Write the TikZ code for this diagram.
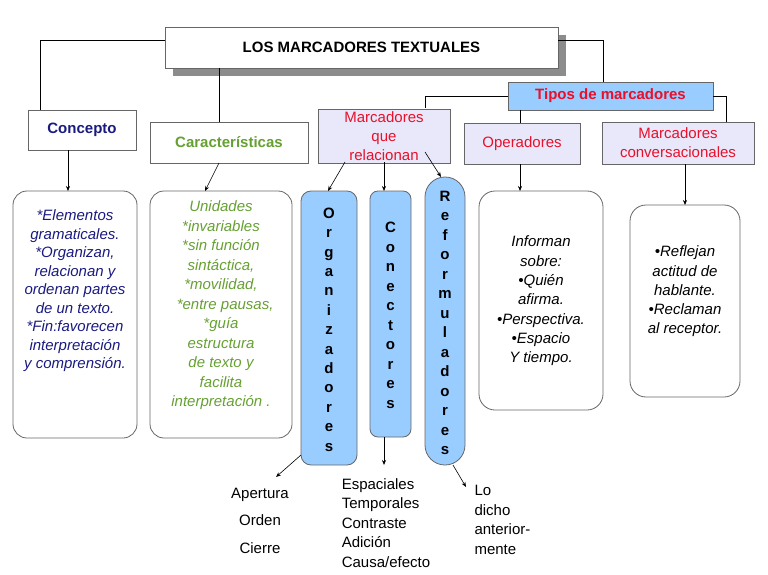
\documentclass[tikz,border=0pt]{standalone}
\usepackage{fontspec}
\setmainfont{Liberation Sans}
\usetikzlibrary{arrows.meta,shapes.misc}
\definecolor{lb}{HTML}{99CCFF}
\definecolor{lav}{HTML}{E8E8FA}
\definecolor{navy}{HTML}{1A1A80}
\definecolor{grn}{HTML}{66A033}
\definecolor{rd}{HTML}{E8102A}
\begin{document}
\begin{tikzpicture}[x=1pt,y=-1pt,
 box/.style={draw=black!60,line width=0.6pt,inner sep=0pt,align=center},
 rbox/.style={box,rounded corners=14pt,line width=0.8pt},
 ln/.style={line width=0.6pt},
 ar/.style={ln,-{Stealth[length=5pt,width=4pt]}},
 it/.style={font=\fontsize{15}{18.5}\selectfont\itshape,align=center},
 vert/.style={font=\fontsize{15}{19.4}\selectfont\bfseries,align=center},
 hd/.style={font=\fontsize{15}{17}\selectfont\bfseries},
 plain/.style={font=\fontsize{15}{16}\selectfont,align=center}]
\useasboundingbox (0,0) rectangle (768,575);
% title
\fill[black!45] (173,35) rectangle (566,76);
\node[box,fill=white,minimum width=393pt,minimum height=41pt,hd] (title) at (361.5,47.5) {LOS MARCADORES TEXTUALES};
\node[box,fill=white,minimum width=108pt,minimum height=40pt,text=navy,hd] (con) at (82,130) {Concepto};
\node[box,fill=white,minimum width=158pt,minimum height=41pt,text=grn,hd] (car) at (229,142.5) {Características};
\node[box,fill=lb,minimum width=205pt,minimum height=28pt,text=rd,hd] (tip) at (610.5,96) {Tipos de marcadores};
\node[box,fill=lav,minimum width=132pt,minimum height=54pt,text=rd,font=\fontsize{15}{19}\selectfont] (rel) at (384,136) {Marcadores\\que\\relacionan};
\node[box,fill=lav,minimum width=116pt,minimum height=41pt,text=rd,font=\fontsize{15}{16}\selectfont] (ope) at (522,143.5) {Operadores};
\node[box,fill=lav,minimum width=152pt,minimum height=42pt,text=rd,font=\fontsize{15}{19}\selectfont] (cnv) at (678,143) {Marcadores\\conversacionales};
% connectors top
\draw[ln] (165,40) -- (40,40) -- (40,110);
\draw[ln] (558,40) -- (603,40) -- (603,82);
\draw[ln] (219,68) -- (219,122);
\draw[ln] (508,96) -- (425,96) -- (425,108);
\draw[ln] (713,96) -- (726,96) -- (726,122);
\draw[ln] (520,110) -- (520,123);
% lower boxes
\node[rbox,minimum width=124pt,minimum height=247pt] (conb) at (75,314.5) {};
\node[it,text=navy] at (75,291) {*Elementos\\gramaticales.\\*Organizan,\\relacionan y\\ordenan partes\\de un texto.\\*Fin:favorecen\\interpretación\\y comprensión.};
\node[rbox,minimum width=142pt,minimum height=247pt] (carb) at (221,314.5) {};
\node[it,text=grn,font=\fontsize{15}{19.5}\selectfont\itshape] at (221,305.5) {Unidades\\*invariables\\*sin función\\sintáctica,\\*movilidad,\\\ \ *entre pausas,\\*guía\\estructura\\de texto y\\facilita\\interpretación .};
\node[rbox,fill=lb,minimum width=56pt,minimum height=274pt,rounded corners=10pt] (org) at (329,328) {};
\node[vert] at (329,329.5) {O\\r\\g\\a\\n\\i\\z\\a\\d\\o\\r\\e\\s};
\node[rbox,fill=lb,minimum width=41pt,minimum height=246pt,rounded corners=8pt] (cnt) at (390.5,314) {};
\node[vert,font=\fontsize{15}{19.5}\selectfont\bfseries] at (390.5,315.5) {C\\o\\n\\e\\c\\t\\o\\r\\e\\s};
\node[rbox,fill=lb,minimum width=40pt,minimum height=288pt,rounded corners=19.9pt] (ref) at (445,321) {};
\node[vert,font=\fontsize{15}{19.5}\selectfont\bfseries] at (445,323) {R\\e\\f\\o\\r\\m\\u\\l\\a\\d\\o\\r\\e\\s};
\node[rbox,minimum width=124pt,minimum height=219pt,rounded corners=16pt] (opeb) at (541,300.5) {};
\node[it,font=\fontsize{15}{19.3}\selectfont\itshape] at (541,301) {Informan\\sobre:\\•Quién\\afirma.\\•Perspectiva.\\•Espacio\\Y tiempo.};
\node[rbox,minimum width=110pt,minimum height=192pt,rounded corners=16pt] (cnvb) at (685,301) {};
\node[it,font=\fontsize{15}{19.2}\selectfont\itshape] at (685,291.5) {•Reflejan\\actitud de\\hablante.\\•Reclaman\\al receptor.};
% arrows
\draw[ar] (68,150) -- (68,191);
\draw[ar] (219,163) -- (205,191);
\draw[ar] (345,162) -- (328,191);
\draw[ar] (384,162) -- (384,191);
\draw[ar] (425,152) -- (441,177);
\draw[ar] (520,164) -- (520,191);
\draw[ar] (685,164) -- (685,205);
% bottom
\node[plain,font=\fontsize{15}{27.5}\selectfont] (ap) at (260,520.5) {Apertura\\Orden\\Cierre};
\node[plain,align=left,font=\fontsize{15}{19.5}\selectfont] (esp) at (386,523) {Espaciales\\Temporales\\Contraste\\Adición\\Causa/efecto};
\node[plain,align=left,anchor=north west,font=\fontsize{15}{19.5}\selectfont] (lo) at (471,482) {Lo\\dicho\\anterior-\\mente};
\draw[ar] (301,455) -- (276,477);
\draw[ar] (384,437) -- (384,465);
\draw[ar] (453,465) -- (466,487);
\end{tikzpicture}
\end{document}
